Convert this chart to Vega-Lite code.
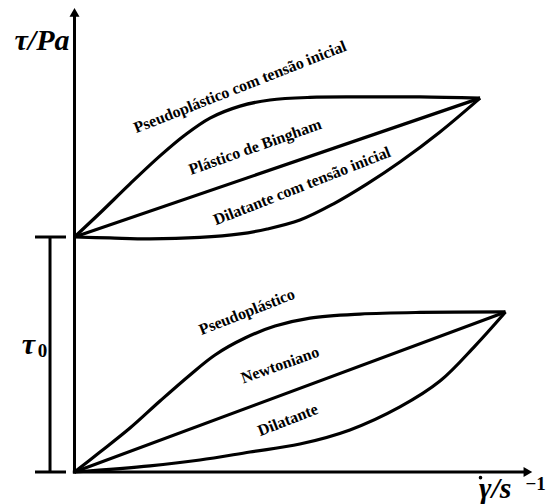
{
  "$schema": "https://vega.github.io/schema/vega-lite/v6.json",
  "width": 549,
  "height": 504,
  "autosize": "none",
  "padding": 0,
  "background": "white",
  "config": {"view": {"stroke": null}},
  "encoding": {
    "x": {"field": "x", "type": "quantitative", "scale": {"domain": [-17.285, 110.093], "nice": false, "zero": false}, "axis": null},
    "y": {"field": "y", "type": "quantitative", "scale": {"domain": [-13.617, 200.851], "nice": false, "zero": false}, "axis": null}
  },
  "layer": [
    {
      "data": {"values": [
        {"series": "pc", "x": 0, "y": 100},
        {"series": "pc", "x": 5.92, "y": 110.2},
        {"series": "pc", "x": 12.88, "y": 122.6},
        {"series": "pc", "x": 19.84, "y": 134.5},
        {"series": "pc", "x": 25.64, "y": 143.4},
        {"series": "pc", "x": 31.44, "y": 150.6},
        {"series": "pc", "x": 38.4, "y": 155.7},
        {"series": "pc", "x": 45.36, "y": 158.3},
        {"series": "pc", "x": 54.64, "y": 159.4},
        {"series": "pc", "x": 66.24, "y": 159.6},
        {"series": "pc", "x": 80.16, "y": 159.6},
        {"series": "pc", "x": 94.1, "y": 159.1},
        {"series": "bingham", "x": 0, "y": 100},
        {"series": "bingham", "x": 94.1, "y": 159.1},
        {"series": "dc", "x": 0, "y": 100},
        {"series": "dc", "x": 8.2, "y": 99.6},
        {"series": "dc", "x": 17.5, "y": 99.2},
        {"series": "dc", "x": 29.1, "y": 99.8},
        {"series": "dc", "x": 38.4, "y": 101.3},
        {"series": "dc", "x": 44.7, "y": 103.4},
        {"series": "dc", "x": 52.3, "y": 107.2},
        {"series": "dc", "x": 60.0, "y": 114.0},
        {"series": "dc", "x": 67.9, "y": 122.6},
        {"series": "dc", "x": 75.5, "y": 131.9},
        {"series": "dc", "x": 84.8, "y": 144.7},
        {"series": "dc", "x": 94.1, "y": 159.1},
        {"series": "p", "x": 0, "y": 0},
        {"series": "p", "x": 5.92, "y": 8.5},
        {"series": "p", "x": 12.88, "y": 18.7},
        {"series": "p", "x": 19.84, "y": 30.2},
        {"series": "p", "x": 26.8, "y": 41.3},
        {"series": "p", "x": 32.6, "y": 49.8},
        {"series": "p", "x": 39.56, "y": 57.0},
        {"series": "p", "x": 46.52, "y": 62.1},
        {"series": "p", "x": 54.64, "y": 65.5},
        {"series": "p", "x": 66.24, "y": 67.2},
        {"series": "p", "x": 80.16, "y": 67.9},
        {"series": "p", "x": 100, "y": 68.1},
        {"series": "n", "x": 0, "y": 0},
        {"series": "n", "x": 100, "y": 68.1},
        {"series": "d", "x": 0, "y": 0},
        {"series": "d", "x": 17.5, "y": 2.6},
        {"series": "d", "x": 29.1, "y": 5.1},
        {"series": "d", "x": 40.7, "y": 8.5},
        {"series": "d", "x": 52.3, "y": 11.9},
        {"series": "d", "x": 63.9, "y": 17.9},
        {"series": "d", "x": 75.5, "y": 27.7},
        {"series": "d", "x": 84.8, "y": 38.7},
        {"series": "d", "x": 92.9, "y": 53.6},
        {"series": "d", "x": 100, "y": 68.1}
      ]},
      "mark": {"type": "line", "color": "black", "strokeWidth": 3.2, "interpolate": "catmull-rom", "strokeJoin": "miter"},
      "encoding": {"detail": {"field": "series", "type": "nominal"}}
    },
    {
      "data": {"values": [
        {"x": 0, "y": -0.6, "x2": 0, "y2": 194},
        {"x": -0.4, "y": 0, "x2": 104.3, "y2": 0},
        {"x": -5.68, "y": 0, "x2": -5.68, "y2": 100},
        {"x": -9.16, "y": 0, "x2": -1.97, "y2": 0},
        {"x": -9.16, "y": 100, "x2": -1.97, "y2": 100}
      ]},
      "mark": {"type": "rule", "color": "black", "strokeWidth": 3},
      "encoding": {"x2": {"field": "x2"}, "y2": {"field": "y2"}}
    },
    {
      "data": {"values": [
        {"dir": "up", "x": 0, "y": 195.6},
        {"dir": "right", "x": 105.2, "y": 0}
      ]},
      "mark": {"type": "point", "filled": true, "color": "black", "opacity": 1, "size": 100},
      "encoding": {"shape": {"field": "dir", "type": "nominal", "scale": {"domain": ["up", "right"], "range": ["triangle-up", "triangle-right"]}, "legend": null}}
    },
    {
      "data": {"values": [
        {"part": "dot", "x": 94.2, "y": -2.4}
      ]},
      "mark": {"type": "point", "shape": "circle", "filled": true, "color": "black", "opacity": 1, "size": 13}
    },
    {
      "data": {"values": [
        {"label": "Pseudoplástico com tensão inicial", "x": 38.4, "y": 163.8},
        {"label": "Dilatante com tensão inicial", "x": 52.8, "y": 121.7},
        {"label": "Pseudoplástico", "x": 40.0, "y": 68.1},
        {"label": "Dilatante", "x": 49.5, "y": 22.1}
      ]},
      "mark": {"type": "text", "font": "Liberation Serif", "fontWeight": "bold", "fontSize": 16, "angle": -21.5, "align": "center", "baseline": "middle", "color": "black"},
      "encoding": {"text": {"field": "label"}}
    },
    {
      "data": {"values": [
        {"label": "Plástico de Bingham", "x": 41.9, "y": 138.3},
        {"label": "Newtoniano", "x": 47.7, "y": 45.5}
      ]},
      "mark": {"type": "text", "font": "Liberation Serif", "fontWeight": "bold", "fontSize": 16, "angle": -19.5, "align": "center", "baseline": "middle", "color": "black"},
      "encoding": {"text": {"field": "label"}}
    },
    {
      "data": {"values": [
        {"label": "τ/Pa", "x": -7.54, "y": 183.4},
        {"label": "τ", "x": -10.7, "y": 54.0},
        {"label": "γ/s", "x": 97.6, "y": -7.2}
      ]},
      "mark": {"type": "text", "font": "Liberation Serif", "fontWeight": "bold", "fontStyle": "italic", "fontSize": 30, "align": "center", "baseline": "middle", "color": "black"},
      "encoding": {"text": {"field": "label"}}
    },
    {
      "data": {"values": [
        {"label": "0", "x": -7.4, "y": 51.6},
        {"label": "−1", "x": 107.0, "y": -5.3}
      ]},
      "mark": {"type": "text", "font": "Liberation Serif", "fontWeight": "bold", "fontSize": 19, "align": "center", "baseline": "middle", "color": "black"},
      "encoding": {"text": {"field": "label"}}
    }
  ]
}
